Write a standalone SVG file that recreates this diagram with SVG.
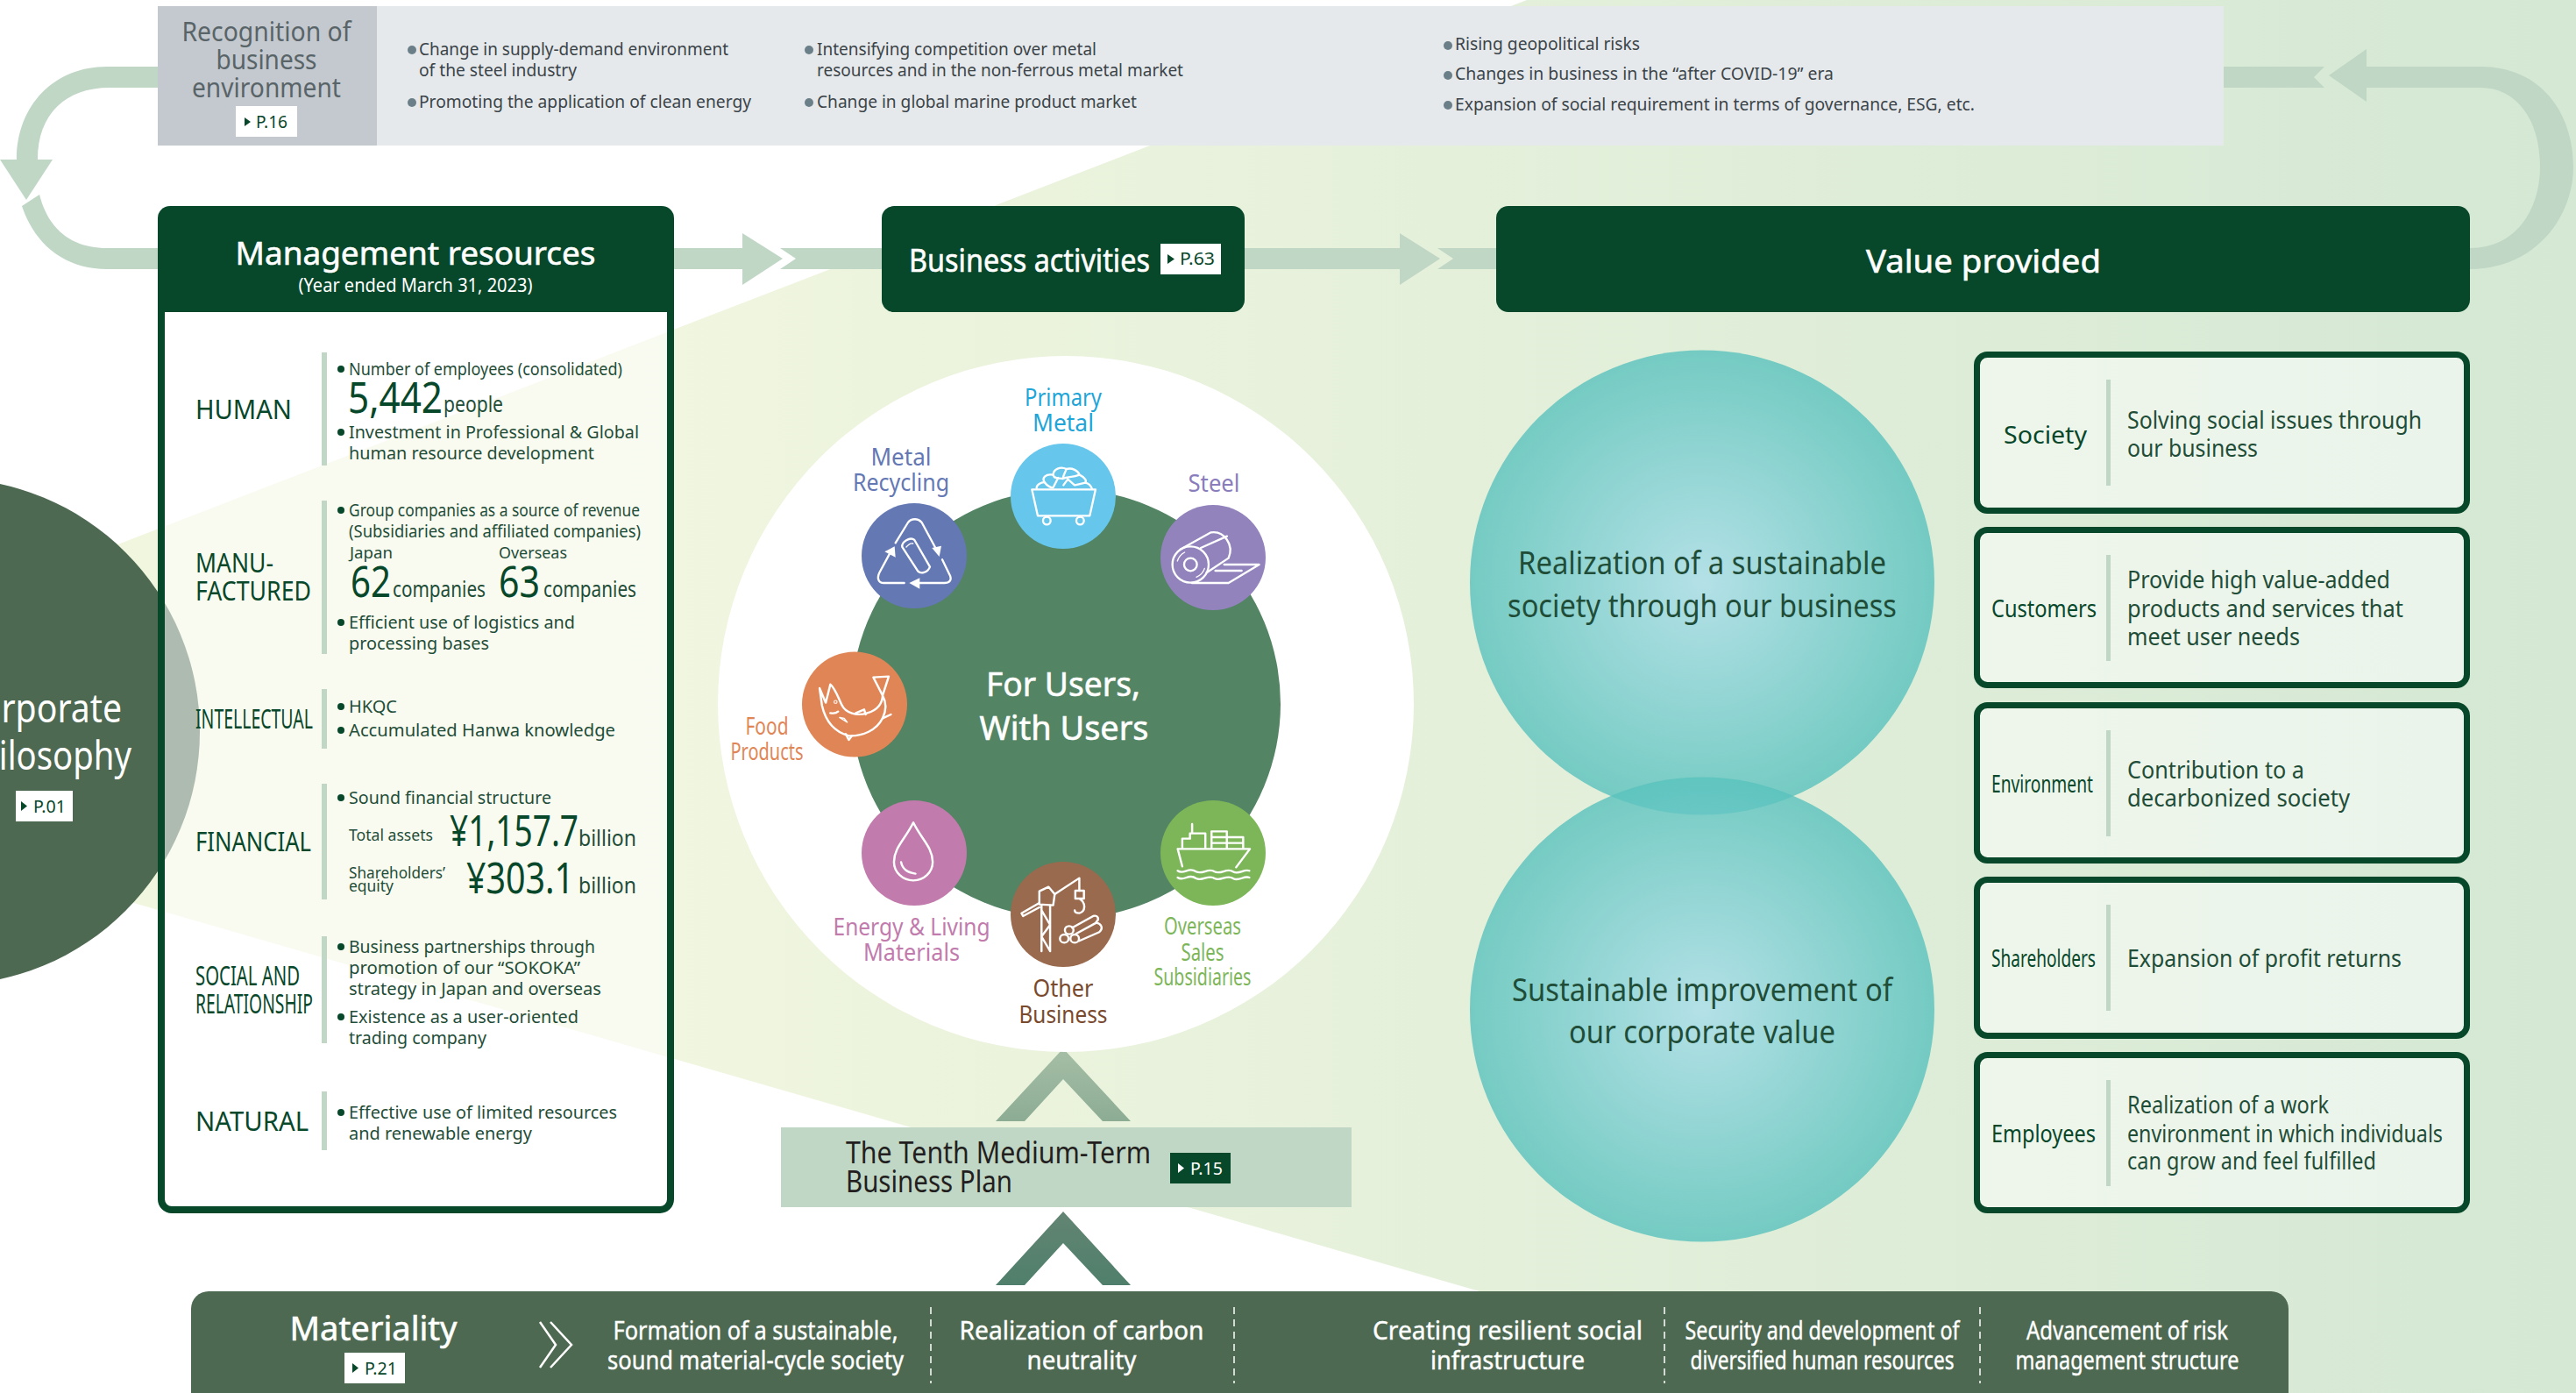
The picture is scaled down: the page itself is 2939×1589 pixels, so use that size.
<svg xmlns="http://www.w3.org/2000/svg" width="2939" height="1589" viewBox="0 0 2939 1589">
<style>
text{font-family:"Noto Sans","Open Sans","DejaVu Sans",sans-serif}
.w{fill:#fff}.d{fill:#07472a}.g{fill:#1f4d38}
.hv{stroke:#fff;stroke-width:.6}
.rg{fill:#596468;font-size:30px;text-anchor:middle}
.b{fill:#3b4448;font-size:19px}
.dot{fill:#6b7f88}.ldot{fill:#07472a}
.lab{fill:#07472a;font-size:30px}
.t{fill:#1f4d38;font-size:20.500px}
.big{fill:#07472a;font-size:49px}
.unit{fill:#1f4d38;font-size:25px}
.sm{fill:#1f4d38;font-size:17.500px}
.bar{fill:#c0d7c6}
.conn{fill:#c0d7c6}
.h1{fill:#fff;font-size:37px;text-anchor:middle;stroke:#fff;stroke-width:.6}
.pg{font-size:20px}
.c{font-size:27px;text-anchor:middle}
.vb{fill:#fff;fill-opacity:.5;stroke:#07472a;stroke-width:7}
.vl{fill:#07472a;font-size:28px}
.vt{fill:#1f4d38;font-size:26.500px}
.big2{fill:#1f4d38;font-size:36px;text-anchor:middle}
.m{fill:#fff;font-size:29px;text-anchor:middle;stroke:#fff;stroke-width:.4}
.ic{fill:none;stroke:#fff;stroke-width:7;stroke-linecap:round;stroke-linejoin:round}
.af{fill:#fff}
</style>
<defs>
<linearGradient id="bg" gradientUnits="userSpaceOnUse" x1="700" y1="0" x2="2939" y2="0"><stop offset="0" stop-color="#f1f6df"/><stop offset="1" stop-color="#d4e8d4"/></linearGradient>
<radialGradient id="teal"><stop offset="0" stop-color="#a8ddea" stop-opacity=".8"/><stop offset="1" stop-color="#59c2bd" stop-opacity=".8"/></radialGradient>
<linearGradient id="ch1" x1="0" y1="0" x2="0" y2="1"><stop offset="0" stop-color="#a6bea6"/><stop offset="1" stop-color="#8dac94"/></linearGradient>
<linearGradient id="ch2" x1="0" y1="0" x2="0" y2="1"><stop offset="0" stop-color="#628572"/><stop offset="1" stop-color="#4f7f6c"/></linearGradient>
</defs>
<rect width="2939" height="1589" fill="#fff"/>
<polygon id="backdrop" points="1742,0 2939,0 2939,1589 2090,1589 0,986 0,673" fill="url(#bg)"/>

<g id="philosophy">
<circle cx="-61" cy="834.500" r="289" fill="#4d6951"/>
<text x="-47" y="824" class="w" font-size="46" textLength="186" lengthAdjust="spacingAndGlyphs">Corporate</text>
<text x="-48" y="878" class="w" font-size="46" textLength="198" lengthAdjust="spacingAndGlyphs">Philosophy</text>
<rect x="18" y="902" width="65" height="35" fill="#fff"/>
<polygon points="24,914 31,919.500 24,925" class="d"/>
<text x="38" y="927" class="d pg" textLength="37" lengthAdjust="spacingAndGlyphs">P.01</text>
</g>

<g id="connectors">
<path class="conn" d="M180,76H122C62,76 19,120 19,182H43C43,130 75,100 125,100H180Z"/>
<polygon class="conn" points="0,182 60,182 30,228"/>
<path class="conn" d="M25,235L45,222C56,265 85,283 122,283H180V307H122C75,307 40,280 25,235Z"/>
<rect class="conn" x="769" y="283" width="78" height="24"/>
<polygon class="conn" points="847,266 893,295 847,325"/>
<polygon class="conn" points="890,283 1006,283 1006,307 890,307 908,295"/>
<rect class="conn" x="1420" y="283" width="177" height="24"/>
<polygon class="conn" points="1597,266 1643,295 1597,325"/>
<polygon class="conn" points="1640,283 1707,283 1707,307 1640,307 1658,295"/>
<path class="conn" d="M2700,76H2830C2900,76 2936,130 2936,190C2936,250 2890,307 2818,307V283C2870,283 2898,240 2898,190C2898,135 2870,100 2830,100H2700Z"/>
<polygon class="conn" points="2700,56 2700,116 2657,86"/>
<polygon class="conn" points="2537,76 2652,76 2640,88 2652,100 2537,100"/>
<polygon points="1213,1196 1290,1279 1258,1279 1213,1231 1169,1279 1136,1279" fill="url(#ch1)"/>
<polygon points="1213,1382 1290,1466 1258,1466 1213,1418 1169,1466 1136,1466" fill="url(#ch2)"/>
</g>

<g id="recognition">
<rect x="430" y="7" width="2107" height="159" fill="#e6e9ec"/>
<rect x="180" y="7" width="250" height="159" fill="#c3c9cf"/>
<text x="304" y="47" class="rg" textLength="193" lengthAdjust="spacingAndGlyphs">Recognition of</text>
<text x="304" y="79" class="rg" textLength="115" lengthAdjust="spacingAndGlyphs">business</text>
<text x="304" y="111" class="rg" textLength="170" lengthAdjust="spacingAndGlyphs">environment</text>
<rect x="269" y="121" width="70" height="35" fill="#fff"/>
<polygon points="279,134 286,139 279,144" class="d"/>
<text x="292" y="146" class="d pg" textLength="36" lengthAdjust="spacingAndGlyphs">P.16</text>
<circle class="dot" cx="470" cy="57" r="5"/><circle class="dot" cx="470" cy="117" r="5"/>
<circle class="dot" cx="923" cy="57" r="5"/><circle class="dot" cx="923" cy="117" r="5"/>
<circle class="dot" cx="1652" cy="52" r="5"/><circle class="dot" cx="1652" cy="86" r="5"/><circle class="dot" cx="1652" cy="120" r="5"/>
<text x="478" y="63" class="b" textLength="353" lengthAdjust="spacingAndGlyphs">Change in supply-demand environment</text>
<text x="478" y="87" class="b" textLength="180" lengthAdjust="spacingAndGlyphs">of the steel industry</text>
<text x="478" y="123" class="b" textLength="379" lengthAdjust="spacingAndGlyphs">Promoting the application of clean energy</text>
<text x="932" y="63" class="b" textLength="319" lengthAdjust="spacingAndGlyphs">Intensifying competition over metal</text>
<text x="932" y="87" class="b" textLength="418" lengthAdjust="spacingAndGlyphs">resources and in the non-ferrous metal market</text>
<text x="932" y="123" class="b" textLength="365" lengthAdjust="spacingAndGlyphs">Change in global marine product market</text>
<text x="1660" y="57" class="b" textLength="211" lengthAdjust="spacingAndGlyphs">Rising geopolitical risks</text>
<text x="1660" y="91" class="b" textLength="432" lengthAdjust="spacingAndGlyphs">Changes in business in the “after COVID-19” era</text>
<text x="1660" y="126" class="b" textLength="593" lengthAdjust="spacingAndGlyphs">Expansion of social requirement in terms of governance, ESG, etc.</text>
</g>

<g id="management">
<rect x="184" y="340" width="581" height="1040" rx="12" fill="#fff" fill-opacity=".55" stroke="#07472a" stroke-width="8"/>
<path class="d" d="M194,235H755A14,14 0 0 1 769,249V356H180V249A14,14 0 0 1 194,235Z"/>
<text x="474" y="302" class="w hv" font-size="37" text-anchor="middle" textLength="411" lengthAdjust="spacingAndGlyphs">Management resources</text>
<text x="474" y="333" class="w" font-size="22" text-anchor="middle" textLength="267" lengthAdjust="spacingAndGlyphs">(Year ended March 31, 2023)</text>
</g>

<g id="human">
<text x="223" y="478" class="lab" textLength="110" lengthAdjust="spacingAndGlyphs">HUMAN</text>
<rect class="bar" x="367" y="402" width="6" height="129"/>
<circle class="ldot" cx="389" cy="421" r="4"/><circle class="ldot" cx="389" cy="493" r="4"/>
<text x="398" y="428" class="t" textLength="312" lengthAdjust="spacingAndGlyphs">Number of employees (consolidated)</text>
<text x="397" y="471" class="big" textLength="108" lengthAdjust="spacingAndGlyphs">5,442</text>
<text x="506" y="470" class="unit" textLength="68" lengthAdjust="spacingAndGlyphs">people</text>
<text x="398" y="500" class="t" textLength="331" lengthAdjust="spacingAndGlyphs">Investment in Professional &amp; Global</text>
<text x="398" y="524" class="t" textLength="280" lengthAdjust="spacingAndGlyphs">human resource development</text>
</g>
<g id="manufactured">
<text x="223" y="653" class="lab" textLength="89" lengthAdjust="spacingAndGlyphs">MANU-</text>
<text x="223" y="685" class="lab" textLength="132" lengthAdjust="spacingAndGlyphs">FACTURED</text>
<rect class="bar" x="367" y="571" width="6" height="175"/>
<circle class="ldot" cx="389" cy="582" r="4"/><circle class="ldot" cx="389" cy="710" r="4"/>
<text x="398" y="589" class="t" textLength="332" lengthAdjust="spacingAndGlyphs">Group companies as a source of revenue</text>
<text x="398" y="613" class="t" textLength="333" lengthAdjust="spacingAndGlyphs">(Subsidiaries and affiliated companies)</text>
<text x="399" y="637" class="sm" textLength="49" lengthAdjust="spacingAndGlyphs">Japan</text>
<text x="569" y="637" class="sm" textLength="78" lengthAdjust="spacingAndGlyphs">Overseas</text>
<text x="400" y="681" class="big" textLength="46" lengthAdjust="spacingAndGlyphs">62</text>
<text x="448" y="681" class="unit" textLength="106" lengthAdjust="spacingAndGlyphs">companies</text>
<text x="569" y="681" class="big" textLength="47" lengthAdjust="spacingAndGlyphs">63</text>
<text x="620" y="681" class="unit" textLength="106" lengthAdjust="spacingAndGlyphs">companies</text>
<text x="398" y="717" class="t" textLength="258" lengthAdjust="spacingAndGlyphs">Efficient use of logistics and</text>
<text x="398" y="741" class="t" textLength="160" lengthAdjust="spacingAndGlyphs">processing bases</text>
</g>
<g id="intellectual">
<text x="223" y="831" class="lab" textLength="134" lengthAdjust="spacingAndGlyphs">INTELLECTUAL</text>
<rect class="bar" x="367" y="786" width="6" height="68"/>
<circle class="ldot" cx="389" cy="806" r="4"/><circle class="ldot" cx="389" cy="833" r="4"/>
<text x="398" y="813" class="t" textLength="55" lengthAdjust="spacingAndGlyphs">HKQC</text>
<text x="398" y="840" class="t" textLength="304" lengthAdjust="spacingAndGlyphs">Accumulated Hanwa knowledge</text>
</g>
<g id="financial">
<text x="223" y="971" class="lab" textLength="132" lengthAdjust="spacingAndGlyphs">FINANCIAL</text>
<rect class="bar" x="367" y="894" width="6" height="132"/>
<circle class="ldot" cx="389" cy="910" r="4"/>
<text x="398" y="917" class="t" textLength="231" lengthAdjust="spacingAndGlyphs">Sound financial structure</text>
<text x="398" y="959" class="sm" textLength="96" lengthAdjust="spacingAndGlyphs">Total assets</text>
<text x="513" y="965" class="big" textLength="147" lengthAdjust="spacingAndGlyphs">¥1,157.7</text>
<text x="660" y="965" class="unit" textLength="66" lengthAdjust="spacingAndGlyphs">billion</text>
<text x="398" y="1002" class="sm" textLength="110" lengthAdjust="spacingAndGlyphs">Shareholders’</text>
<text x="398" y="1017" class="sm" textLength="51" lengthAdjust="spacingAndGlyphs">equity</text>
<text x="532" y="1019" class="big" textLength="123" lengthAdjust="spacingAndGlyphs">¥303.1</text>
<text x="660" y="1019" class="unit" textLength="66" lengthAdjust="spacingAndGlyphs">billion</text>
</g>
<g id="social">
<text x="223" y="1124" class="lab" textLength="119" lengthAdjust="spacingAndGlyphs">SOCIAL AND</text>
<text x="223" y="1156" class="lab" textLength="134" lengthAdjust="spacingAndGlyphs">RELATIONSHIP</text>
<rect class="bar" x="367" y="1068" width="6" height="122"/>
<circle class="ldot" cx="389" cy="1080" r="4"/><circle class="ldot" cx="389" cy="1160" r="4"/>
<text x="398" y="1087" class="t" textLength="281" lengthAdjust="spacingAndGlyphs">Business partnerships through</text>
<text x="398" y="1111" class="t" textLength="264" lengthAdjust="spacingAndGlyphs">promotion of our “SOKOKA”</text>
<text x="398" y="1135" class="t" textLength="288" lengthAdjust="spacingAndGlyphs">strategy in Japan and overseas</text>
<text x="398" y="1167" class="t" textLength="262" lengthAdjust="spacingAndGlyphs">Existence as a user-oriented</text>
<text x="398" y="1191" class="t" textLength="157" lengthAdjust="spacingAndGlyphs">trading company</text>
</g>
<g id="natural">
<text x="223" y="1290" class="lab" textLength="129" lengthAdjust="spacingAndGlyphs">NATURAL</text>
<rect class="bar" x="367" y="1245" width="6" height="67"/>
<circle class="ldot" cx="389" cy="1269" r="4"/>
<text x="398" y="1276" class="t" textLength="306" lengthAdjust="spacingAndGlyphs">Effective use of limited resources</text>
<text x="398" y="1300" class="t" textLength="209" lengthAdjust="spacingAndGlyphs">and renewable energy</text>
</g>

<g id="business-activities">
<rect x="1006" y="235" width="414" height="121" rx="14" class="d"/>
<text x="1037" y="310" class="w hv" font-size="37" textLength="275" lengthAdjust="spacingAndGlyphs">Business activities</text>
<rect x="1324" y="278" width="69" height="35" fill="#fff"/>
<polygon points="1332,290 1340,295.500 1332,301" class="d"/>
<text x="1346" y="302" class="d pg" textLength="40" lengthAdjust="spacingAndGlyphs">P.63</text>
</g>
<g id="value-provided">
<rect x="1707" y="235" width="1111" height="121" rx="14" class="d"/>
<text x="2263" y="311" class="h1" textLength="268" lengthAdjust="spacingAndGlyphs">Value provided</text>
</g>

<g id="core">
<circle cx="1216" cy="803" r="397" fill="#fff"/>
<circle cx="1216" cy="803" r="245" fill="#538464"/>
<text x="1213" y="794" class="w hv" font-size="38" text-anchor="middle" textLength="176" lengthAdjust="spacingAndGlyphs">For Users,</text>
<text x="1214" y="844" class="w hv" font-size="38" text-anchor="middle" textLength="193" lengthAdjust="spacingAndGlyphs">With Users</text>
</g>

<g id="primary-metal">
<circle cx="1213" cy="566" r="60" fill="#66c6ec"/>
<g transform="translate(960,490) scale(.3333)" class="ic">
<path d="M652,205H870L850,295H672Z"/><circle cx="703" cy="312" r="13"/><circle cx="817" cy="312" r="13"/>
<path d="M668,200C668,185 690,180 695,180C685,165 700,150 725,155C725,135 750,125 770,135C790,130 810,140 815,155C835,165 840,175 835,182C850,185 855,195 858,203"/>
<path d="M695,180C705,195 720,200 725,198M725,155C728,170 745,165 758,168C775,160 790,165 815,155M770,135C765,150 760,155 758,168M742,165L725,198M760,190L775,170 798,190M800,190L835,182"/>
</g>
<text x="1213" y="463" class="c" fill="#1fa5d8" textLength="88" lengthAdjust="spacingAndGlyphs">Primary</text>
<text x="1213" y="492" class="c" fill="#1fa5d8" textLength="70" lengthAdjust="spacingAndGlyphs">Metal</text>
</g>
<g id="steel">
<circle cx="1384" cy="636" r="60" fill="#9283bd"/>
<g transform="translate(960,490) scale(.3333)" class="ic">
<circle cx="1195" cy="462" r="62"/><circle cx="1195" cy="462" r="22"/>
<path d="M1160,410L1265,352C1310,345 1345,395 1325,440L1250,490M1230,405L1320,365"/>
<path d="M1200,525H1325L1430,462H1310M1280,483H1370"/>
<path d="M1150,450C1155,435 1165,425 1175,420M1215,505C1230,498 1240,485 1243,475" stroke-width="4"/>
</g>
<text x="1385" y="561" class="c" fill="#8a7dbb" textLength="59" lengthAdjust="spacingAndGlyphs">Steel</text>
</g>
<g id="metal-recycling">
<circle cx="1043" cy="634" r="60" fill="#6478b4"/>
<g transform="translate(960,490) scale(.3333)" class="ic">
<path d="M185,388L228,318C240,303 262,303 275,318L322,405"/>
<path d="M345,445L372,500C378,515 370,525 352,525H265"/>
<path d="M215,525H145C128,525 120,510 130,490L165,425"/>
<path d="M208,402L262,485C272,495 295,490 303,470L250,378C235,365 205,385 208,402Z"/>
<path d="M222,402C228,395 238,388 245,390" stroke-width="4"/>
</g>
<g transform="translate(960,490) scale(.3333)" class="af">
<polygon points="310,405 342,398 335,435"/><polygon points="268,508 268,545 232,525"/><polygon points="148,418 182,400 185,437"/>
</g>
<text x="1028" y="531" class="c" fill="#6478b4" textLength="69" lengthAdjust="spacingAndGlyphs">Metal</text>
<text x="1028" y="560" class="c" fill="#6478b4" textLength="110" lengthAdjust="spacingAndGlyphs">Recycling</text>
</g>
<g id="food-products">
<circle cx="975" cy="803.500" r="60" fill="#e08656"/>
<g transform="translate(900,730) scale(.3507,.3333)" class="ic">
<path d="M100,165L120,215 135,152C150,165 160,195 172,222C185,250 220,262 255,250C290,240 305,215 305,190L275,128 325,125 305,190C318,215 318,240 305,268C285,310 240,330 195,328C150,315 120,280 108,225Z"/>
<path d="M305,268L332,255M185,322L195,342 205,328M218,250L245,238 250,255M135,250C145,252 155,250 160,245"/>
<circle cx="152" cy="212" r="5" stroke-width="3"/><path d="M165,265L190,282 180,268Z" stroke-width="4"/>
</g>
<text x="875" y="838" class="c" fill="#e08656" textLength="49" lengthAdjust="spacingAndGlyphs">Food</text>
<text x="875" y="867" class="c" fill="#e08656" textLength="83" lengthAdjust="spacingAndGlyphs">Products</text>
</g>
<g id="energy-living">
<circle cx="1043" cy="973" r="60" fill="#c17bac"/>
<g transform="translate(900,730) scale(.3507,.3333)" class="ic">
<path d="M405,625C380,680 342,710 342,760A63,63 0 0 0 468,760C468,710 430,680 405,625Z"/>
<path d="M365,760C370,785 385,795 412,800"/>
</g>
<text x="1040" y="1067" class="c" fill="#c17bac" textLength="179" lengthAdjust="spacingAndGlyphs">Energy &amp; Living</text>
<text x="1040" y="1096" class="c" fill="#c17bac" textLength="110" lengthAdjust="spacingAndGlyphs">Materials</text>
</g>
<g id="other-business">
<circle cx="1213" cy="1043" r="60" fill="#9a6a4e"/>
<g transform="translate(900,730) scale(.3507,.3333)" class="ic">
<path d="M822,908V1065M850,908V1065M822,925L850,975 822,1015 850,1065"/>
<path d="M815,905V860L845,845 865,870 860,908Z"/>
<path d="M815,900L757,935 762,945 815,915M865,870L945,815 945,858"/>
<path d="M932,858H960V885H932ZM945,885C968,900 965,930 945,935C935,935 930,930 930,925"/>
<circle cx="896" cy="1022" r="14"/><circle cx="930" cy="1022" r="14"/><circle cx="912" cy="993" r="14"/>
<path d="M922,985L990,945C1005,940 1012,955 1000,965M945,1030L1010,1000C1025,985 1015,970 1000,968L935,1005"/>
</g>
<text x="1213" y="1137" class="c" fill="#7a4a2e" textLength="69" lengthAdjust="spacingAndGlyphs">Other</text>
<text x="1213" y="1167" class="c" fill="#7a4a2e" textLength="101" lengthAdjust="spacingAndGlyphs">Business</text>
</g>
<g id="overseas-sales">
<circle cx="1384" cy="973" r="60" fill="#7db659"/>
<g transform="translate(900,730) scale(.3507,.3333)" class="ic">
<path d="M1265,715H1500L1455,778M1265,715L1280,775"/>
<path d="M1280,712V680H1305V662H1355V712M1312,630V660"/>
<path d="M1375,712V655H1425V712M1375,675H1478V712M1375,695H1478M1425,655V712"/>
<path d="M1265,790C1285,805 1300,775 1325,793C1345,805 1365,778 1385,793C1405,805 1425,778 1445,793C1465,805 1480,782 1498,790"/>
<path d="M1265,813C1285,828 1300,798 1325,816C1345,828 1365,801 1385,816C1405,828 1425,801 1445,816C1465,828 1480,805 1498,813"/>
</g>
<text x="1372" y="1066" class="c" fill="#7db659" textLength="88" lengthAdjust="spacingAndGlyphs">Overseas</text>
<text x="1372" y="1096" class="c" fill="#7db659" textLength="49" lengthAdjust="spacingAndGlyphs">Sales</text>
<text x="1372" y="1124" class="c" fill="#7db659" textLength="111" lengthAdjust="spacingAndGlyphs">Subsidiaries</text>
</g>

<g id="medium-term-plan">
<rect x="891" y="1286" width="651" height="91" fill="#c0d7c6"/>
<text x="965" y="1327" fill="#231f20" font-size="35" textLength="348" lengthAdjust="spacingAndGlyphs">The Tenth Medium-Term</text>
<text x="965" y="1360" fill="#231f20" font-size="35" textLength="190" lengthAdjust="spacingAndGlyphs">Business Plan</text>
<rect x="1335" y="1315" width="69" height="35" class="d"/>
<polygon points="1344,1327 1351,1332.500 1344,1338" class="w"/>
<text x="1358" y="1340" class="w pg" textLength="37" lengthAdjust="spacingAndGlyphs">P.15</text>
</g>

<g id="realization-society">
<circle cx="1942" cy="664.500" r="265" fill="url(#teal)"/>
<text x="1942" y="655" class="big2" textLength="420" lengthAdjust="spacingAndGlyphs">Realization of a sustainable</text>
<text x="1942" y="703.500" class="big2" textLength="444" lengthAdjust="spacingAndGlyphs">society through our business</text>
</g>
<g id="corporate-value">
<circle cx="1942" cy="1151.500" r="265" fill="url(#teal)"/>
<text x="1942" y="1142" class="big2" textLength="434" lengthAdjust="spacingAndGlyphs">Sustainable improvement of</text>
<text x="1942" y="1190" class="big2" textLength="304" lengthAdjust="spacingAndGlyphs">our corporate value</text>
</g>

<g id="v-society">
<rect class="vb" x="2255.500" y="404.500" width="559" height="178" rx="12"/>
<rect class="bar" x="2403" y="433" width="5" height="121"/>
<text x="2286" y="506" class="vl" textLength="95" lengthAdjust="spacingAndGlyphs">Society</text>
<text x="2427" y="489" class="vt" textLength="336" lengthAdjust="spacingAndGlyphs">Solving social issues through</text>
<text x="2427" y="521" class="vt" textLength="149" lengthAdjust="spacingAndGlyphs">our business</text>
</g>
<g id="v-customers">
<rect class="vb" x="2255.500" y="604.500" width="559" height="177" rx="12"/>
<rect class="bar" x="2403" y="633" width="5" height="121"/>
<text x="2272" y="704" class="vl" textLength="120" lengthAdjust="spacingAndGlyphs">Customers</text>
<text x="2427" y="671" class="vt" textLength="300" lengthAdjust="spacingAndGlyphs">Provide high value-added</text>
<text x="2427" y="704" class="vt" textLength="315" lengthAdjust="spacingAndGlyphs">products and services that</text>
<text x="2427" y="736" class="vt" textLength="197" lengthAdjust="spacingAndGlyphs">meet user needs</text>
</g>
<g id="v-environment">
<rect class="vb" x="2255.500" y="804.500" width="559" height="177" rx="12"/>
<rect class="bar" x="2403" y="833" width="5" height="121"/>
<text x="2272" y="904" class="vl" textLength="116" lengthAdjust="spacingAndGlyphs">Environment</text>
<text x="2427" y="888" class="vt" textLength="202" lengthAdjust="spacingAndGlyphs">Contribution to a</text>
<text x="2427" y="920" class="vt" textLength="254" lengthAdjust="spacingAndGlyphs">decarbonized society</text>
</g>
<g id="v-shareholders">
<rect class="vb" x="2255.500" y="1003.500" width="559" height="178" rx="12"/>
<rect class="bar" x="2403" y="1032" width="5" height="121"/>
<text x="2272" y="1103" class="vl" textLength="119" lengthAdjust="spacingAndGlyphs">Shareholders</text>
<text x="2427" y="1103" class="vt" textLength="313" lengthAdjust="spacingAndGlyphs">Expansion of profit returns</text>
</g>
<g id="v-employees">
<rect class="vb" x="2255.500" y="1203.500" width="559" height="177" rx="12"/>
<rect class="bar" x="2403" y="1232" width="5" height="121"/>
<text x="2272" y="1303" class="vl" textLength="119" lengthAdjust="spacingAndGlyphs">Employees</text>
<text x="2427" y="1270" class="vt" textLength="230" lengthAdjust="spacingAndGlyphs">Realization of a work</text>
<text x="2427" y="1303" class="vt" textLength="360" lengthAdjust="spacingAndGlyphs">environment in which individuals</text>
<text x="2427" y="1334" class="vt" textLength="284" lengthAdjust="spacingAndGlyphs">can grow and feel fulfilled</text>
</g>

<g id="materiality">
<path d="M218,1600V1493A20,20 0 0 1 238,1473H2591A20,20 0 0 1 2611,1493V1600Z" fill="#4d6951"/>
<text x="426" y="1529" class="w hv" font-size="38" text-anchor="middle" textLength="191" lengthAdjust="spacingAndGlyphs">Materiality</text>
<rect x="393" y="1543" width="69" height="35" fill="#fff"/>
<polygon points="402,1555 409,1560.500 402,1566" class="d"/>
<text x="416" y="1568" class="d pg" textLength="37" lengthAdjust="spacingAndGlyphs">P.21</text>
<path d="M616,1508L634,1534 616,1560M628,1508L652,1534 628,1560" fill="none" stroke="#fff" stroke-width="2.500"/>
<g stroke="#fff" stroke-width="1.500" stroke-dasharray="8 6" fill="none"><path d="M1062,1491V1578M1408,1491V1578M1899,1491V1578M2259,1491V1578"/></g>
<text x="862" y="1528" class="m" textLength="325" lengthAdjust="spacingAndGlyphs">Formation of a sustainable,</text>
<text x="862" y="1562" class="m" textLength="338" lengthAdjust="spacingAndGlyphs">sound material-cycle society</text>
<text x="1234" y="1528" class="m" textLength="279" lengthAdjust="spacingAndGlyphs">Realization of carbon</text>
<text x="1234" y="1562" class="m" textLength="125" lengthAdjust="spacingAndGlyphs">neutrality</text>
<text x="1720" y="1528" class="m" textLength="308" lengthAdjust="spacingAndGlyphs">Creating resilient social</text>
<text x="1720" y="1562" class="m" textLength="176" lengthAdjust="spacingAndGlyphs">infrastructure</text>
<text x="2079" y="1528" class="m" textLength="313" lengthAdjust="spacingAndGlyphs">Security and development of</text>
<text x="2079" y="1562" class="m" textLength="301" lengthAdjust="spacingAndGlyphs">diversified human resources</text>
<text x="2427" y="1528" class="m" textLength="230" lengthAdjust="spacingAndGlyphs">Advancement of risk</text>
<text x="2427" y="1562" class="m" textLength="255" lengthAdjust="spacingAndGlyphs">management structure</text>
</g>
</svg>
